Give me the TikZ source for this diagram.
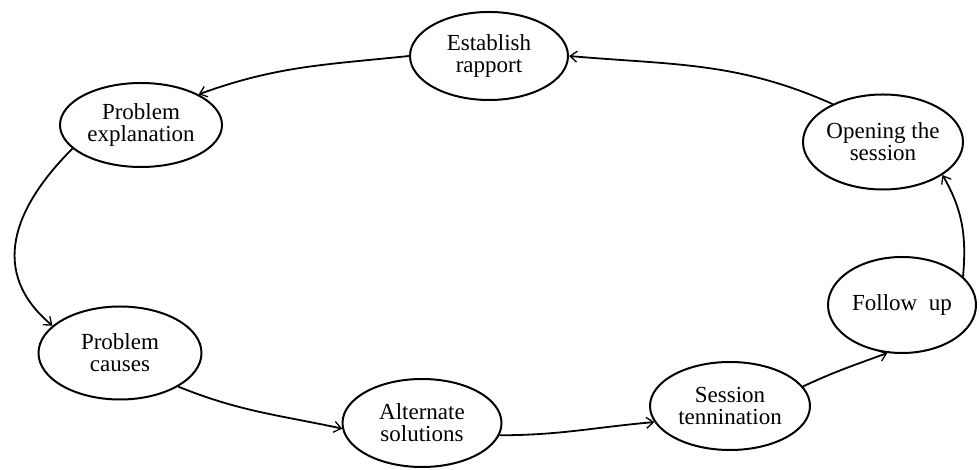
\documentclass[tikz,border=0pt]{standalone}
\usepackage{fontspec}
\setmainfont{Liberation Serif}
\usetikzlibrary{shapes.geometric,arrows.meta}
\begin{document}
\begin{tikzpicture}[x=1pt,y=1pt,
  stage/.style={ellipse,draw,line width=2pt,inner sep=0pt,
    minimum width=160pt,minimum height=90pt,align=center,
    font=\fontsize{23}{22}\selectfont},
  flow/.style={line width=1.8pt,-{Straight Barb[length=7pt,width=11pt,line width=1.3pt]}}]
\useasboundingbox (0,0) rectangle (979,470);
% counselling session stages
\node[stage,minimum width=158pt,minimum height=88pt] (est)   at (489,414) {Establish\\rapport};
\node[stage,minimum width=162pt,minimum height=84pt] (expl)  at (141,345) {Problem\\explanation};
\node[stage,minimum width=163pt,minimum height=93pt] (cause) at (120,117) {Problem\\causes};
\node[stage,minimum width=159pt,minimum height=88pt] (alt)   at (422,47)  {Alternate\\solutions};
\node[stage,minimum width=160pt,minimum height=88pt] (sess)  at (730,64)  {Session\\tennination};
\node[stage,minimum width=148pt,minimum height=96pt] (foll)  at (902,165) {Follow\ \ up};
\node[stage,minimum width=160pt,minimum height=95pt] (open)  at (883,328) {Opening the\\session};
% cycle of connectors
\draw[flow] (open.143) to[out=156,in=-5] (est.east);
\draw[flow] (est.west) to[out=186,in=20] (expl.28);
\draw[flow] (expl.199) to[out=225,in=140,looseness=1.2] (cause.158);
\draw[flow] (cause.-30) to[out=-22,in=168] (alt.184);
\draw[flow] (alt.-9) to[out=0,in=185] (sess.192);
\draw[flow] (sess.15) to[out=25,in=200] (foll.253);
\draw[flow] (foll.25) to[out=85,in=-60] (open.-29);
\end{tikzpicture}
\end{document}
